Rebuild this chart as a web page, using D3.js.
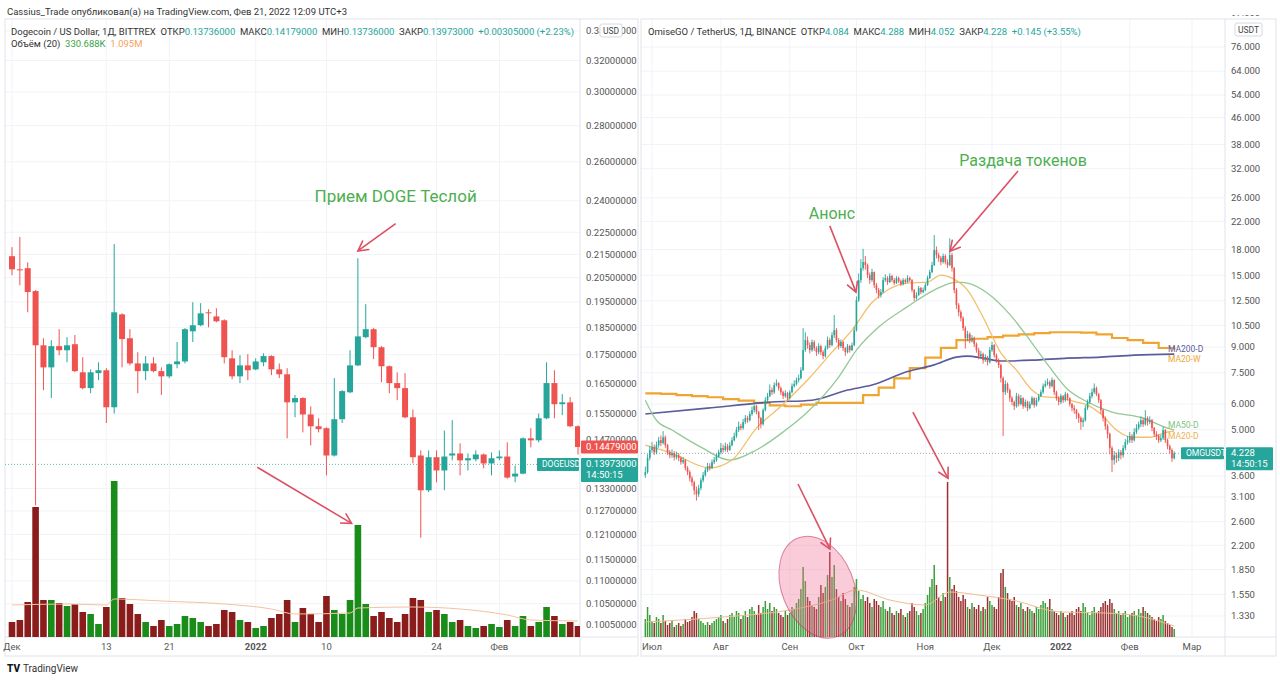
<!DOCTYPE html>
<html>
<head>
<meta charset="utf-8">
<script src="https://cdn.jsdelivr.net/npm/d3@7"></script>
<style>
  body { margin: 0; background: #fff; }
  text { font-family: Roboto, "Open Sans", "DejaVu Sans", sans-serif; white-space: pre; }
</style>
</head>
<body>
<svg id="chart" width="1280" height="680"></svg>
<script>
// ---------- DOGE / USD, daily, from Dec 1 2021 ----------
const dogeOpen = [0.2142,0.2085,0.2090,0.1994,0.1784,0.1705,0.1781,0.1766,0.1788,0.1688,
  0.1634,0.1685,0.1695,0.1571,0.1901,0.1810,0.1719,0.1692,0.1719,0.1692,
  0.1674,0.1716,0.1726,0.1836,0.1859,0.1909,0.1893,0.1878,0.1737,0.1674,
  0.1712,0.1698,0.1723,0.1745,0.1698,0.1681,0.1587,0.1601,0.1548,0.1511,
  0.1505,0.1423,0.1533,0.1620,0.1712,0.1814,0.1844,0.1777,0.1709,0.1651,
  0.1634,0.1539,0.1423,0.1325,0.1418,0.1380,0.1423,0.1429,0.1409,0.1412,
  0.1426,0.1400,0.1415,0.1420,0.1363,0.1371,0.1474,0.1468,0.1536,0.1651,
  0.1581,0.1587,0.1511];
const dogeHigh = [0.2182,0.2228,0.2115,0.1998,0.1810,0.1803,0.1844,0.1814,0.1822,0.1741,
  0.1698,0.1723,0.1702,0.2196,0.1905,0.1844,0.1759,0.1745,0.1741,0.1705,
  0.1719,0.1796,0.1848,0.1949,0.1945,0.1921,0.1925,0.1882,0.1766,0.1748,
  0.1752,0.1737,0.1755,0.1748,0.1719,0.1702,0.1611,0.1604,0.1574,0.1536,
  0.1508,0.1668,0.1627,0.1766,0.2133,0.1941,0.1848,0.1781,0.1712,0.1688,
  0.1685,0.1564,0.1438,0.1438,0.1438,0.1498,0.1530,0.1459,0.1429,0.1438,
  0.1429,0.1432,0.1438,0.1462,0.1394,0.1477,0.1505,0.1551,0.1723,0.1695,
  0.1614,0.1604,0.1514];
const dogeLow = [0.2060,0.2018,0.1909,0.1285,0.1627,0.1601,0.1748,0.1723,0.1688,0.1630,
  0.1617,0.1661,0.1521,0.1551,0.1705,0.1712,0.1617,0.1661,0.1688,0.1611,
  0.1668,0.1702,0.1719,0.1796,0.1855,0.1851,0.1870,0.1719,0.1664,0.1651,
  0.1661,0.1695,0.1709,0.1678,0.1668,0.1474,0.1539,0.1492,0.1453,0.1492,
  0.1366,0.1420,0.1521,0.1617,0.1709,0.1810,0.1734,0.1654,0.1617,0.1594,
  0.1536,0.1400,0.1202,0.1320,0.1347,0.1325,0.1409,0.1366,0.1380,0.1406,
  0.1386,0.1366,0.1409,0.1357,0.1347,0.1369,0.1447,0.1462,0.1533,0.1536,
  0.1546,0.1508,0.1426];
const dogeClose = [0.2085,0.2081,0.1990,0.1784,0.1705,0.1781,0.1766,0.1784,0.1692,0.1634,
  0.1688,0.1695,0.1571,0.1909,0.1807,0.1719,0.1692,0.1719,0.1692,0.1674,
  0.1716,0.1726,0.1844,0.1859,0.1905,0.1905,0.1874,0.1741,0.1674,0.1712,
  0.1695,0.1726,0.1745,0.1698,0.1681,0.1587,0.1601,0.1548,0.1511,0.1502,
  0.1423,0.1533,0.1624,0.1712,0.1817,0.1844,0.1777,0.1709,0.1651,0.1634,
  0.1539,0.1418,0.1325,0.1418,0.1380,0.1420,0.1429,0.1409,0.1415,0.1426,
  0.1400,0.1415,0.1420,0.1360,0.1371,0.1474,0.1468,0.1536,0.1651,0.1581,
  0.1587,0.1511,0.1448];
// volume, millions
const dogeVolume = [1.5,1.7,3.5,13.0,3.7,3.7,3.4,3.1,3.3,2.5,
  2.3,1.3,3.0,15.6,3.9,3.3,2.3,1.5,1.1,1.7,
  1.1,1.3,2.1,1.9,1.5,1.1,1.3,2.7,2.5,1.7,
  1.5,0.9,1.1,1.9,2.3,3.7,1.5,2.9,2.3,1.5,
  4.1,2.7,2.3,3.7,11.2,3.3,2.1,2.5,1.9,1.5,
  2.3,3.9,3.7,2.5,2.7,2.3,1.5,1.7,1.1,0.9,
  1.1,1.3,1.0,1.7,1.1,2.1,1.1,1.5,3.0,2.1,
  1.3,1.5,1.1];
// volume MA(20) read at a few days: [day index, value]
const dogeVolMA = [[0,3.2],[7,3.3],[12,3.2],[13,3.8],[19,3.6],[27,3.3],[33,2.8],[36,2.3],
  [43,2.4],[44,2.9],[51,3.0],[57,2.8],[63,2.2],[66,1.7],[72,1.6]];
const dogePriceTicks = [0.34,0.32,0.30,0.28,0.26,0.24,0.225,0.215,0.205,0.195,0.185,0.175,
  0.165,0.155,0.147,0.133,0.127,0.121,0.115,0.110,0.105,0.1005];
const dogeTickLabels = ["Дек","13","21","2022","10","24","Фев"];
const dogeTickDates = [[2021,11,1],[2021,11,13],[2021,11,21],[2022,0,1],[2022,0,10],[2022,0,24],[2022,1,1]];

// ---------- OMG / USDT, daily, from Jun 28 2021 (open = prior close) ----------
const omgFirstOpen = 3.62;
const omgClose = [3.70,4.09,4.33,4.42,4.26,4.48,4.64,4.55,4.74,4.48,4.26,4.17,4.23,4.11,4.17,4.09,3.97,4.03,3.81,3.70,
  3.54,3.44,3.25,3.16,3.30,3.49,3.62,3.75,3.86,3.81,3.97,4.03,4.14,4.26,4.39,4.33,4.45,4.33,4.48,4.64,
  4.78,4.99,5.13,5.06,5.28,5.43,5.35,5.59,5.75,5.91,5.67,5.43,5.20,5.75,6.17,6.35,6.63,6.53,6.87,6.96,
  6.72,6.53,6.35,6.49,6.26,6.53,6.82,6.92,7.12,7.22,7.64,8.81,9.46,9.13,8.81,9.32,8.93,8.68,9.06,8.68,
  8.44,8.93,9.46,9.13,9.80,10.15,9.46,9.06,9.32,8.93,8.68,9.06,8.81,9.13,10.15,12.57,14.49,15.78,16.47,16.12,
  15.02,14.49,15.34,13.98,13.50,13.02,13.30,14.49,14.70,14.29,14.91,14.49,14.18,14.70,14.39,14.08,14.49,14.29,14.70,14.49,
  13.50,12.75,13.02,13.69,13.30,13.50,13.98,14.70,15.34,16.12,17.94,17.31,16.94,16.47,17.19,16.47,16.12,17.31,15.78,13.50,
  12.13,11.54,11.06,10.30,9.59,9.87,9.46,9.59,9.19,8.81,8.44,8.56,8.20,8.38,8.09,8.81,9.13,8.50,8.20,7.92,
  7.22,6.53,6.92,6.63,6.26,6.09,5.91,6.35,6.00,6.26,5.91,6.09,5.83,6.00,6.26,5.96,6.17,6.35,6.53,6.82,
  6.92,7.01,6.82,7.12,6.53,6.26,6.09,6.35,6.17,6.44,6.26,6.00,5.83,5.75,5.59,5.43,5.28,5.35,5.83,6.09,
  6.35,6.53,6.72,6.44,6.17,5.75,5.43,5.13,4.85,4.39,4.03,4.17,4.09,4.26,4.17,4.39,4.58,4.64,4.78,4.64,
  4.92,5.06,5.20,5.35,5.20,5.43,5.28,5.35,5.06,4.85,4.78,4.64,4.71,4.99,4.64,4.45,4.33,4.08,4.23];
const omgHigh = [3.85,4.20,4.45,4.58,4.50,4.60,4.75,4.80,4.95,4.80,4.52,4.33,4.35,4.30,4.28,4.24,4.14,4.12,4.06,3.86,
  3.75,3.60,3.48,3.34,3.38,3.55,3.70,3.82,3.95,3.94,4.05,4.12,4.22,4.34,4.55,4.50,4.56,4.52,4.58,4.74,
  4.90,5.10,5.30,5.22,5.40,5.55,5.52,5.70,5.90,6.05,5.98,5.72,5.48,5.82,6.30,6.50,6.90,6.75,7.00,7.15,
  7.02,6.80,6.60,6.62,6.55,6.62,6.95,7.10,7.25,7.40,7.80,10.30,10.00,9.70,9.30,9.50,9.45,9.05,9.25,9.15,
  8.80,9.10,9.70,9.60,10.00,11.30,10.30,9.60,9.50,9.40,9.00,9.20,9.15,9.30,10.40,12.90,15.20,16.80,18.10,17.20,
  16.30,15.30,15.70,15.40,14.20,13.70,13.60,14.80,15.10,14.90,15.20,15.05,14.70,14.90,14.85,14.55,14.70,14.65,15.00,14.85,
  14.60,13.60,13.30,13.90,13.80,13.75,14.20,14.95,15.60,16.50,19.96,18.40,17.60,17.20,17.50,17.40,16.80,19.50,17.60,15.90,
  13.70,12.30,11.70,11.20,10.45,10.10,10.00,9.80,9.70,9.30,8.95,8.75,8.65,8.55,8.45,9.00,9.35,9.20,8.60,8.30,
  8.00,7.30,7.10,7.00,6.70,6.35,6.15,6.50,6.45,6.40,6.30,6.20,6.15,6.12,6.35,6.30,6.28,6.45,6.65,6.95,
  7.10,7.20,7.10,7.25,7.15,6.60,6.35,6.45,6.40,6.55,6.50,6.30,6.05,5.95,5.80,5.65,5.50,5.45,5.95,6.20,
  6.50,6.70,6.95,6.80,6.50,6.22,5.80,5.50,5.20,4.90,4.45,4.30,4.25,4.35,4.33,4.48,4.68,4.78,4.92,4.85,
  5.05,5.20,5.30,5.50,5.45,5.75,5.50,5.50,5.40,5.10,4.95,4.85,4.82,5.10,5.02,4.70,4.50,4.38,4.29];
const omgLow = [3.55,3.66,4.02,4.25,4.18,4.20,4.40,4.45,4.50,4.40,4.18,4.08,4.10,4.02,4.05,4.00,3.90,3.92,3.74,3.62,
  3.46,3.35,3.15,3.02,3.10,3.25,3.44,3.58,3.70,3.74,3.78,3.92,3.98,4.10,4.20,4.25,4.28,4.26,4.30,4.44,
  4.60,4.72,4.92,4.98,5.00,5.20,5.25,5.30,5.52,5.65,5.58,4.99,5.05,5.15,5.70,6.10,6.30,6.40,6.45,6.80,
  6.60,6.40,6.22,6.28,6.15,6.20,6.48,6.75,6.85,7.00,7.15,7.60,8.70,8.90,8.60,8.70,8.75,8.45,8.55,8.50,
  8.25,8.35,8.85,8.95,9.05,9.60,9.30,8.85,8.95,8.75,8.45,8.60,8.65,8.75,9.05,10.05,12.40,14.20,15.50,15.60,
  14.70,14.10,14.30,13.70,13.20,12.70,12.80,13.20,14.30,14.00,14.20,14.30,14.00,14.10,14.20,13.90,13.95,14.10,14.20,14.30,
  13.30,12.50,12.60,12.95,13.10,13.20,13.40,13.90,14.60,15.20,16.00,16.90,16.50,16.10,16.30,16.20,15.80,16.00,15.40,13.20,
  11.80,11.20,10.80,10.10,8.90,9.40,9.25,9.30,9.00,8.65,8.25,8.30,8.00,8.10,7.90,8.00,8.70,8.35,8.05,7.75,
  7.00,4.78,6.40,6.50,6.10,5.95,5.75,5.85,5.90,5.95,5.80,5.85,5.70,5.78,5.95,5.85,5.90,6.10,6.30,6.45,
  6.75,6.85,6.70,6.75,6.40,6.15,5.95,6.00,6.05,6.10,6.15,5.90,5.70,5.60,5.40,5.25,5.00,5.10,5.30,5.75,
  6.00,6.25,6.45,6.35,6.05,5.60,5.30,5.00,4.70,4.20,3.70,3.90,3.95,4.00,4.05,4.10,4.32,4.50,4.55,4.55,
  4.60,4.85,5.00,5.10,5.10,5.15,5.15,5.20,4.95,4.75,4.65,4.55,4.58,4.65,4.55,4.35,4.22,3.98,4.05];
// volume, millions USDT
const omgVolume = [18,30,22,16,14,20,18,14,22,16,12,14,16,10,12,14,11,13,18,15,
  16,20,26,24,18,16,14,12,15,12,14,16,18,20,22,16,14,18,22,24,
  20,26,24,18,22,26,20,28,30,26,22,32,24,30,36,28,34,26,30,28,
  24,22,20,26,22,24,30,28,34,38,48,70,56,40,36,32,30,28,40,52,
  44,50,62,85,60,72,48,40,36,44,38,32,30,34,50,58,46,38,42,36,
  40,34,30,38,36,32,30,36,28,26,30,24,22,26,24,28,22,20,24,26,
  34,30,26,22,24,28,34,42,50,58,72,52,40,36,44,40,155,60,48,52,
  46,40,36,42,38,30,28,34,30,28,32,26,30,28,40,36,32,30,28,40,
  64,68,50,44,38,36,40,32,30,34,28,26,30,28,26,24,30,28,32,36,
  34,30,38,28,26,24,22,26,24,20,22,24,26,22,28,30,26,34,30,24,
  22,26,30,24,26,30,34,36,32,38,34,28,24,26,22,24,26,20,22,24,
  26,22,28,24,30,26,24,22,20,18,16,20,18,22,16,14,12,10,8];
const omgVolMA = [[0,15],[35,20],[65,27],[84,37],[95,47],[110,37],[126,32],[137,45],[150,42],
  [165,37],[187,25],[207,24],[222,21],[238,11]];
// moving averages: [day index, price]
const omgMA20d = [[0,4.48],[12,4.23],[29,3.81],[39,4.03],[50,5.06],[61,5.91],[73,7.12],[84,8.68],[93,10.15],
  [102,12.35],[109,13.50],[118,14.18],[127,14.29],[133,15.02],[138,14.70],[145,13.50],[152,11.13],[160,8.63],
  [167,7.64],[174,6.63],[179,6.33],[187,6.26],[194,6.09],[199,5.96],[205,5.59],[212,4.99],[219,4.74],
  [227,4.74],[235,4.92],[238,4.95]];
const omgMA50d = [[0,6.17],[5,5.35],[12,4.99],[25,4.42],[38,4.03],[50,4.33],[62,4.92],[72,5.59],[87,7.27],
  [95,8.81],[105,10.38],[118,12.0],[130,13.50],[140,14.29],[145,14.18],[154,13.20],[164,11.36],[174,9.26],
  [182,7.79],[190,6.67],[199,6.09],[210,5.67],[223,5.46],[235,5.06],[238,4.99]];
const omgMA200d = [[0,5.59],[28,5.83],[57,6.09],[75,6.17],[91,6.63],[102,6.87],[118,7.56],[130,7.93],
  [140,8.38],[145,8.44],[152,8.32],[160,8.15],[174,8.20],[190,8.32],[205,8.38],[220,8.50],[238,8.56]];
// MA20 on weekly bars, one value per week starting Mon Jun 28
const omgMA20w = [6.48,6.45,6.40,6.35,6.30,6.22,6.15,6.05,5.95,5.91,5.98,6.05,6.05,6.05,6.40,6.75,7.20,
  7.75,8.35,8.95,9.46,9.55,9.66,9.76,9.85,9.94,10.0,10.0,9.97,9.85,9.60,9.45,9.27,8.94,8.90];
const omgPriceTicks = [97,76,64,54,46,38,32,26,22,18,15,12.5,10.5,9,7.5,6,5,3.6,3.1,2.6,2.2,1.85,1.55,1.33];
const omgTickLabels = ["Июл","Авг","Сен","Окт","Ноя","Дек","2022","Фев","Мар"];
const omgTickDates = [[2021,6,1],[2021,7,1],[2021,8,1],[2021,9,1],[2021,10,1],[2021,11,1],[2022,0,1],[2022,1,1],[2022,2,1]];

// ---------- setup ----------
const up = "#26a69a", down = "#ef5350";
const dayMs = 864e5;
const dogeStart = new Date(2021, 11, 1);
const omgStart = new Date(2021, 5, 28);
const dayAt = (start, n) => new Date(start.getTime() + n * dayMs);
const mkDate = a => new Date(a[0], a[1], a[2]);

const svg = d3.select("#chart");
svg.append("rect").attr("width", 1280).attr("height", 680).attr("fill", "#fff");

const L = { x0: 5, x1: 638, top: 19, pr: 580, pb: 637, bottom: 656 };
const R = { x0: 641, x1: 1276, top: 19, pr: 1225, pb: 637, bottom: 656 };

const xL = d3.scaleTime().domain([dogeStart, dayAt(dogeStart, 72)]).range([12, 578]);
const yL = d3.scaleLog().domain([0.1005, 0.34]).range([625, 31]);
const yLV = d3.scaleLinear().domain([0, 16]).range([637, 477]);
const xR = d3.scaleTime().domain([new Date(2021, 6, 1), new Date(2022, 2, 1)]).range([652, 1192]);
const yR = d3.scaleLog().domain([1.33, 76]).range([616, 47]);
const yRV = d3.scaleLinear().domain([0, 160]).range([637, 477]);

const dogeRows = dogeClose.map((c, i) => ({
  date: dayAt(dogeStart, i), o: dogeOpen[i], h: dogeHigh[i], l: dogeLow[i], c: c, v: dogeVolume[i]
}));
const omgRows = omgClose.map((c, i) => ({
  date: dayAt(omgStart, i), o: i === 0 ? omgFirstOpen : omgClose[i - 1], h: omgHigh[i], l: omgLow[i], c: c, v: omgVolume[i]
}));

const defs = svg.append("defs");
defs.append("clipPath").attr("id", "clipL").append("rect")
  .attr("x", L.x0).attr("y", L.top).attr("width", L.pr - L.x0).attr("height", L.pb - L.top);
defs.append("clipPath").attr("id", "clipR").append("rect")
  .attr("x", R.x0).attr("y", R.top).attr("width", R.pr - R.x0).attr("height", R.pb - R.top);
defs.append("clipPath").attr("id", "clipRA").append("rect")
  .attr("x", R.pr).attr("y", 15).attr("width", R.x1 - R.pr).attr("height", R.pb - 15);

function panelFrame(P, x, y, ticks, fmt, tickDates, tickLabels, clip) {
  const g = svg.append("g");
  // grid
  g.selectAll("line.h").data(ticks).join("line")
    .attr("x1", P.x0).attr("x2", P.pr).attr("y1", d => y(d)).attr("y2", d => y(d))
    .attr("stroke", "#f2f3f6").attr("clip-path", `url(#${clip})`);
  g.selectAll("line.v").data(tickDates).join("line")
    .attr("x1", d => x(mkDate(d))).attr("x2", d => x(mkDate(d)))
    .attr("y1", P.top).attr("y2", P.pb).attr("stroke", "#f2f3f6");
  // borders
  g.append("rect").attr("x", P.x0).attr("y", P.top).attr("width", P.x1 - P.x0).attr("height", P.bottom - P.top)
    .attr("fill", "none").attr("stroke", "#e0e3eb");
  g.append("line").attr("x1", P.pr).attr("x2", P.pr).attr("y1", P.top).attr("y2", P.bottom).attr("stroke", "#e0e3eb");
  g.append("line").attr("x1", P.x0).attr("x2", P.x1).attr("y1", P.pb).attr("y2", P.pb).attr("stroke", "#e0e3eb");
  // price labels
  g.append("g").attr("clip-path", P === R ? "url(#clipRA)" : null)
    .selectAll("text").data(ticks).join("text")
    .attr("x", P.pr + 6).attr("y", d => y(d)).attr("dy", "0.35em")
    .attr("font-size", 9.5).attr("fill", "#555").text(fmt);
  // time labels
  g.selectAll("text.t").data(tickDates).join("text")
    .attr("x", d => x(mkDate(d))).attr("y", 650).attr("text-anchor", "middle")
    .attr("font-size", 9.5).attr("fill", "#555")
    .attr("font-weight", (d, i) => tickLabels[i] === "2022" ? 700 : 400)
    .text((d, i) => tickLabels[i]);
  return g;
}

panelFrame(L, xL, yL, dogePriceTicks, d => d.toFixed(8), dogeTickDates, dogeTickLabels, "clipL");
panelFrame(R, xR, yR, omgPriceTicks, d => d.toFixed(3), omgTickDates, omgTickLabels, "clipR");

function drawVolume(g, rows, x, yV, bw, upC, downC) {
  g.selectAll("rect.v").data(rows).join("rect")
    .attr("x", d => x(d.date) - bw / 2).attr("width", bw)
    .attr("y", d => yV(d.v)).attr("height", d => yV(0) - yV(d.v))
    .attr("fill", d => d.c >= d.o ? upC : downC);
}
function drawCandles(g, rows, x, y, bw, ww) {
  g.selectAll("line.w").data(rows).join("line")
    .attr("x1", d => x(d.date)).attr("x2", d => x(d.date))
    .attr("y1", d => y(d.h)).attr("y2", d => y(d.l))
    .attr("stroke", d => d.c >= d.o ? up : down).attr("stroke-width", ww);
  g.selectAll("rect.b").data(rows).join("rect")
    .attr("x", d => x(d.date) - bw / 2).attr("width", bw)
    .attr("y", d => y(Math.max(d.o, d.c)))
    .attr("height", d => Math.max(1, y(Math.min(d.o, d.c)) - y(Math.max(d.o, d.c))))
    .attr("fill", d => d.c >= d.o ? up : down);
}

// ---------- left plot ----------
const gL = svg.append("g").attr("clip-path", "url(#clipL)");
drawVolume(gL.append("g"), dogeRows, xL, yLV, 6.6, "#1a8c1a", "#8b1c1c");
gL.append("path").datum(dogeVolMA)
  .attr("d", d3.line().x(d => xL(dayAt(dogeStart, d[0]))).y(d => yLV(d[1])).curve(d3.curveMonotoneX))
  .attr("fill", "none").attr("stroke", "#f2c49e").attr("stroke-width", 1);
gL.append("line").attr("x1", L.x0).attr("x2", L.pr).attr("y1", yL(0.13973)).attr("y2", yL(0.13973))
  .attr("stroke", "#5fb8b0").attr("stroke-dasharray", "1,2");
drawCandles(gL.append("g"), dogeRows, xL, yL, 6, 1);

// ---------- right plot ----------
const gR = svg.append("g").attr("clip-path", "url(#clipR)");
drawVolume(gR.append("g"), omgRows, xR, yRV, 1.5, "#3a9f3a", "#9a3030");
gR.append("path").datum(omgVolMA)
  .attr("d", d3.line().x(d => xR(dayAt(omgStart, d[0]))).y(d => yRV(d[1])).curve(d3.curveMonotoneX))
  .attr("fill", "none").attr("stroke", "#f0bc8f").attr("stroke-width", 1);
gR.append("line").attr("x1", R.x0).attr("x2", R.pr).attr("y1", yR(4.228)).attr("y2", yR(4.228))
  .attr("stroke", "#9aa5a8").attr("stroke-dasharray", "1,2");

const maLine = d3.line().x(d => xR(dayAt(omgStart, d[0]))).y(d => yR(d[1])).curve(d3.curveMonotoneX);
const weekly = omgMA20w.map((v, k) => [k * 7, v]).concat([[238.5, omgMA20w[omgMA20w.length - 1]]]);
gR.append("path").datum(weekly)
  .attr("d", d3.line().x(d => xR(dayAt(omgStart, d[0]))).y(d => yR(d[1])).curve(d3.curveStepAfter))
  .attr("fill", "none").attr("stroke", "#f0a531").attr("stroke-width", 2.2);
gR.append("path").datum(omgMA200d).attr("d", maLine)
  .attr("fill", "none").attr("stroke", "#5a5c9c").attr("stroke-width", 1.6);
gR.append("path").datum(omgMA50d).attr("d", maLine)
  .attr("fill", "none").attr("stroke", "#93c995").attr("stroke-width", 1.3);
gR.append("path").datum(omgMA20d).attr("d", maLine)
  .attr("fill", "none").attr("stroke", "#f3bf6b").attr("stroke-width", 1.3);
drawCandles(gR.append("g"), omgRows, xR, yR, 1.6, 0.9);

// MA end labels
const maLabels = [["MA200-D", "#5a5c9c", 8.56, -5], ["MA20-W", "#f0a531", 8.94, 11],
  ["MA50-D", "#7fc282", 5.06, -3], ["MA20-D", "#f0b050", 4.95, 5]];
svg.selectAll("text.ma").data(maLabels).join("text")
  .attr("x", 1168).attr("y", d => yR(d[2]) + d[3]).attr("dy", "0.35em")
  .attr("font-size", 8.5).attr("fill", d => d[1]).text(d => d[0]);

// ---------- price tags ----------
function tag(x, y, w, h, fill, lines, fs) {
  svg.append("rect").attr("x", x).attr("y", y).attr("width", w).attr("height", h).attr("fill", fill).attr("rx", 1);
  lines.forEach((t, i) => svg.append("text").attr("x", x + 5).attr("y", y + 9 + i * 11)
    .attr("font-size", fs).attr("fill", "#fff").text(t));
}
const yTagRed = yL(0.14479);
tag(581, yTagRed - 6.5, 57, 13, "#ef5350", ["0.14479000"], 9.5);
const yTag = yL(0.13973);
tag(581, yTag - 6.5, 57, 24, "#26a69a", ["0.13973000", "14:50:15"], 9.5);
tag(537, yTag - 6.5, 42, 13, "#26a69a", ["DOGEUSD"], 8.5);
const yTagR = yR(4.228);
tag(1226, yTagR - 6, 47, 23, "#26a69a", ["4.228", "14:50:15"], 9.5);
tag(1181, yTagR - 6, 43, 12, "#26a69a", ["OMGUSDT"], 8.5);

// currency boxes
svg.append("rect").attr("x", 600).attr("y", 24).attr("width", 22).attr("height", 13)
  .attr("fill", "#fff").attr("stroke", "#d6d9e0").attr("rx", 2);
svg.append("text").attr("x", 611).attr("y", 33.5).attr("text-anchor", "middle").attr("font-size", 8.5).attr("fill", "#444").text("USD");
svg.append("rect").attr("x", 1235).attr("y", 23).attr("width", 27).attr("height", 13)
  .attr("fill", "#fff").attr("stroke", "#d6d9e0").attr("rx", 2);
svg.append("text").attr("x", 1248.5).attr("y", 32.5).attr("text-anchor", "middle").attr("font-size", 8.5).attr("fill", "#444").text("USDT");

// ---------- headers ----------
svg.append("text").attr("x", 7).attr("y", 15).attr("font-size", 9.5).attr("fill", "#333")
  .text("Cassius_Trade опубликовал(а) на TradingView.com, Фев 21, 2022 12:09 UTC+3");

function legend(x, y, parts) {
  const t = svg.append("text").attr("x", x).attr("y", y).attr("font-size", 9.5);
  parts.forEach(p => t.append("tspan").attr("fill", p[1]).text(p[0]));
}
const dark = "#333", teal = "#26a69a";
legend(11, 35, [["Dogecoin / US Dollar, 1Д, BITTREX  ОТКР", dark], ["0.13736000", teal], ["  МАКС", dark],
  ["0.14179000", teal], ["  МИН", dark], ["0.13736000", teal], ["  ЗАКР", dark], ["0.13973000", teal],
  ["  +0.00305000 (+2.23%)", teal]]);
legend(11, 47, [["Объём (20)  ", dark], ["330.688K", "#3aa34a"], ["  1.095M", "#f5a460"]]);
legend(648, 35, [["OmiseGO / TetherUS, 1Д, BINANCE  ОТКР", dark], ["4.084", teal], ["  МАКС", dark],
  ["4.288", teal], ["  МИН", dark], ["4.052", teal], ["  ЗАКР", dark], ["4.228", teal],
  ["  +0.145 (+3.55%)", teal]]);

// TradingView logo
svg.append("text").attr("x", 7).attr("y", 672).attr("font-size", 10).attr("font-weight", 900)
  .attr("fill", "#131722").text("TV");
svg.append("text").attr("x", 23).attr("y", 672).attr("font-size", 10).attr("fill", "#333").text("TradingView");

// ---------- annotations ----------
const arrowC = "#dd4f63";
function arrow(x1, y1, x2, y2) {
  const a = Math.atan2(y2 - y1, x2 - x1), len = 11, sp = 0.5;
  svg.append("line").attr("x1", x1).attr("y1", y1).attr("x2", x2).attr("y2", y2)
    .attr("stroke", arrowC).attr("stroke-width", 1.6);
  svg.append("path")
    .attr("d", `M${x2 - len * Math.cos(a - sp)},${y2 - len * Math.sin(a - sp)}L${x2},${y2}L${x2 - len * Math.cos(a + sp)},${y2 - len * Math.sin(a + sp)}`)
    .attr("fill", "none").attr("stroke", arrowC).attr("stroke-width", 1.6).attr("stroke-linecap", "round");
}
const green = "#4caf50";
// left
svg.append("text").attr("x", xL(dayAt(dogeStart, 48.8))).attr("y", yL(0.2423)).attr("dy", "0.35em")
  .attr("text-anchor", "middle").attr("font-size", 17).attr("fill", green).text("Прием DOGE Теслой");
arrow(xL(dayAt(dogeStart, 48.8)), yL(0.229), xL(dayAt(dogeStart, 44)), yL(0.2165));
arrow(xL(dayAt(dogeStart, 31.2)), yL(0.1389), xL(dayAt(dogeStart, 43.2)), yL(0.1238));
// right
const dR = n => xR(dayAt(omgStart, n));
svg.append("ellipse").attr("cx", dR(77.6)).attr("cy", yR(1.632)).attr("rx", 36).attr("ry", 53)
  .attr("transform", `rotate(-22, ${dR(77.6)}, ${yR(1.632)})`)
  .attr("fill", "rgba(240,110,150,0.35)").attr("stroke", "rgba(200,60,100,0.6)").attr("stroke-width", 1);
svg.append("text").attr("x", dR(170)).attr("y", yR(34)).attr("dy", "0.35em")
  .attr("text-anchor", "middle").attr("font-size", 16).attr("fill", green).text("Раздача токенов");
svg.append("text").attr("x", dR(84)).attr("y", yR(23.2)).attr("dy", "0.35em")
  .attr("text-anchor", "middle").attr("font-size", 16).attr("fill", green).text("Анонс");
arrow(dR(83), yR(21.3), dR(94.8), yR(13.3));
arrow(dR(167.7), yR(31.45), dR(137.1), yR(17.8));
arrow(dR(120.4), yR(5.67), dR(136.2), yR(3.54));
arrow(dR(68.7), yR(3.40), dR(83.1), yR(2.14));
</script>
</body>
</html>
